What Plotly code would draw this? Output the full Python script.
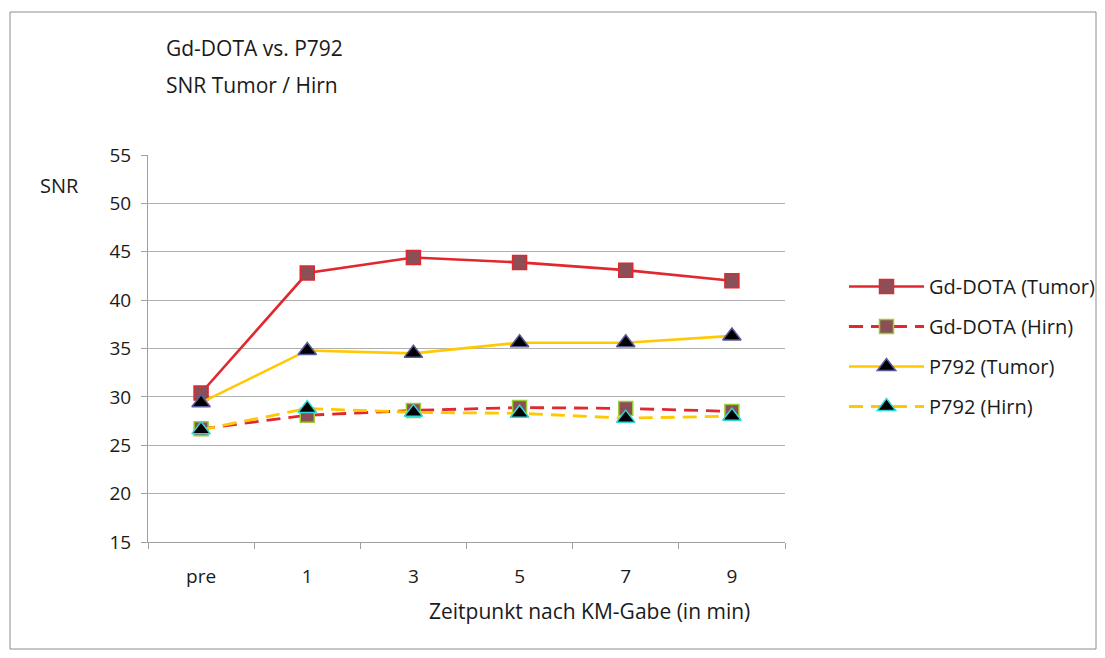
import plotly.graph_objects as go

categories = ["pre", "1", "3", "5", "7", "9"]
gd_tumor = [30.4, 42.8, 44.4, 43.9, 43.1, 42.0]
gd_hirn = [26.7, 28.1, 28.6, 28.9, 28.8, 28.5]
p_tumor = [29.4, 34.8, 34.5, 35.6, 35.6, 36.3]
p_hirn = [26.6, 28.8, 28.4, 28.3, 27.8, 28.0]
y_ticks = [15, 20, 25, 30, 35, 40, 45, 50, 55]

FONT = "Open Sans"
RED = "#e0282e"
YEL = "#ffc800"
TXT = "#1a1a1a"

fig = go.Figure()
fig.add_trace(go.Scatter(
    x=categories, y=gd_tumor, name="Gd-DOTA (Tumor)", mode="lines+markers",
    legendgroup="a",
    line=dict(color=RED, width=2.6),
    marker=dict(symbol="square", size=14, color="#8a4f57", line=dict(color=RED, width=1.5))))
fig.add_trace(go.Scatter(
    x=categories, y=gd_hirn, name="Gd-DOTA (Hirn)", mode="lines+markers",
    legendgroup="b",
    line=dict(color=RED, width=2.8, dash="14px,8px"),
    marker=dict(symbol="square", size=14, color="#8a4f57", line=dict(color="#9acd32", width=1.5))))
fig.add_trace(go.Scatter(
    x=categories, y=p_tumor, name="P792 (Tumor)", mode="lines+markers",
    legendgroup="c",
    line=dict(color=YEL, width=2.6),
    marker=dict(symbol="triangle-up", size=16, color="#000000", line=dict(color="#5a5a9a", width=1.5))))
fig.add_trace(go.Scatter(
    x=categories, y=p_hirn, name="P792 (Hirn)", mode="lines+markers",
    legendgroup="d",
    line=dict(color=YEL, width=2.8, dash="14px,8px"),
    marker=dict(symbol="triangle-up", size=16, color="#000000", line=dict(color="#30d8d8", width=1.5))))

# page body has an 8px default margin; keep the figure inside the body box
OFF = 8
FW, FH = 1105 - 2 * OFF, 658 - 2 * OFF
L, T = 148 - OFF, 155 - OFF
W, H = 785 - 148, 542 - 155
R = FW - L - W
B = FH - T - H

def px(x):
    return (x - OFF - L) / W

def py(y):
    return (FH - B - (y - OFF)) / H

fig.update_layout(
    width=FW, height=FH,
    margin=dict(l=L, r=R, t=T, b=B, autoexpand=False),
    paper_bgcolor="white", plot_bgcolor="white",
    font=dict(family=FONT, size=19, color=TXT),
    showlegend=True,
    legend=dict(x=px(844), y=py(267), xanchor="left", yanchor="top",
                traceorder="grouped", tracegroupgap=11, itemwidth=75,
                font=dict(family=FONT, size=20, color=TXT),
                bgcolor="rgba(0,0,0,0)"),
    xaxis=dict(type="category", categoryorder="array", categoryarray=categories,
               showgrid=False, showline=True, linecolor="#a0a0a0", linewidth=1,
               ticks="outside", tickson="boundaries", ticklen=6, tickcolor="#a0a0a0",
               tickfont=dict(family=FONT, size=19, color=TXT), ticklabelstandoff=17,
               range=[-0.5, 5.5], fixedrange=True, automargin=False),
    yaxis=dict(range=[15, 55], tickvals=y_ticks, showgrid=True, gridcolor="#b0b0b0",
               gridwidth=1, showline=True, linecolor="#a0a0a0", linewidth=1,
               ticks="outside", ticklen=6, tickcolor="#a0a0a0", zeroline=False,
               tickfont=dict(family=FONT, size=19, color=TXT), ticklabelstandoff=6,
               fixedrange=True, automargin=False),
    shapes=[dict(type="rect", xref="paper", yref="paper",
                 x0=px(10), x1=px(1096), y0=py(649), y1=py(12),
                 line=dict(color="#8c8c8c", width=1), fillcolor="rgba(0,0,0,0)", layer="below")],
    annotations=[
        dict(text="Gd-DOTA vs. P792", xref="paper", yref="paper", x=px(164), y=py(48),
             xanchor="left", yanchor="middle", showarrow=False, font=dict(size=21)),
        dict(text="SNR Tumor / Hirn", xref="paper", yref="paper", x=px(164), y=py(85),
             xanchor="left", yanchor="middle", showarrow=False, font=dict(size=21)),
        dict(text="SNR", xref="paper", yref="paper", x=px(38), y=py(185),
             xanchor="left", yanchor="middle", showarrow=False, font=dict(size=20)),
        dict(text="Zeitpunkt nach KM-Gabe (in min)", xref="paper", yref="paper",
             x=px(589), y=py(611), xanchor="center", yanchor="middle", showarrow=False,
             font=dict(size=21)),
    ],
)

fig.write_html("out.html")
